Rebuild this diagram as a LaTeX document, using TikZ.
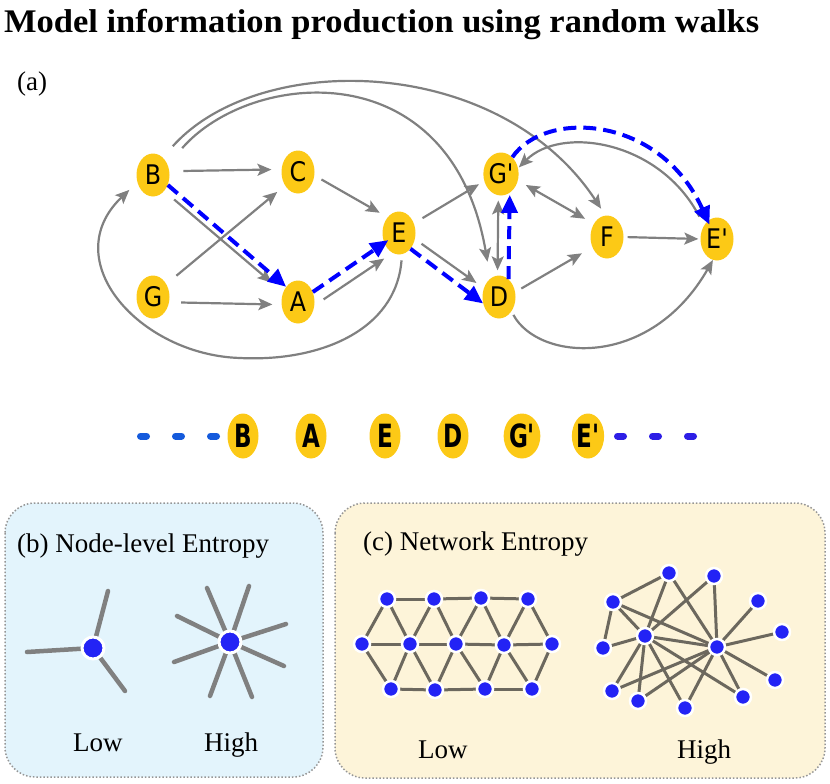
\documentclass[tikz,border=0pt]{standalone}
\usepackage{fontspec}
\setmainfont{Liberation Serif}
\newfontfamily\djv{DejaVu Sans}
\usetikzlibrary{arrows.meta,shapes.geometric}
\definecolor{gold}{RGB}{252,201,22}
\definecolor{edgegray}{RGB}{128,128,128}
\definecolor{walkblue}{RGB}{0,0,255}
\definecolor{dotblue}{RGB}{35,35,245}
\definecolor{panelblue}{RGB}{227,244,252}
\definecolor{panelyellow}{RGB}{253,244,217}
\definecolor{panelborder}{RGB}{150,150,150}
\definecolor{spokegray}{RGB}{128,128,128}
\definecolor{netgray}{RGB}{108,104,94}
\definecolor{seqblueL}{RGB}{20,90,220}
\definecolor{seqblueR}{RGB}{45,30,230}
\newcommand{\glab}[1]{\scalebox{0.88}[1]{#1}}
\newcommand{\slab}[1]{\scalebox{0.72}[1]{#1}}
\begin{document}
\begin{tikzpicture}[x=1pt,y=-1pt,
  gnode/.style={ellipse,fill=gold,minimum width=33pt,minimum height=43pt,inner sep=0pt,font=\djv\fontsize{27}{27}\selectfont},
  snode/.style={ellipse,fill=gold,minimum width=31pt,minimum height=45pt,inner sep=0pt,font=\djv\bfseries\fontsize{32}{32}\selectfont},
  gedge/.style={draw=edgegray,line width=2.2pt,-{Stealth[length=14pt,width=12pt,inset=3pt]}},
  gboth/.style={draw=edgegray,line width=2.2pt,{Stealth[length=14pt,width=12pt,inset=3pt]}-{Stealth[length=14pt,width=12pt,inset=3pt]}},
  walk/.style={draw=walkblue,line width=4pt,dash pattern=on 13pt off 7pt,-{Triangle[length=18pt,width=16pt]}},
  seqL/.style={draw=seqblueL,line width=7pt,line cap=round,dash pattern=on 6pt off 29pt},
  seqR/.style={draw=seqblueR,line width=7pt,line cap=round,dash pattern=on 6pt off 29pt},
  panel/.style={rounded corners=30pt,draw=panelborder,line width=1.5pt,dotted},
  lbl/.style={anchor=base west,inner sep=0pt,font=\fontsize{27}{27}\selectfont},
  spoke/.style={draw=spokegray,line width=4.5pt,line cap=round},
  netedge/.style={draw=netgray,line width=3pt},
  bigdot/.style={circle,fill=dotblue,draw=white,line width=3pt,minimum size=22pt,inner sep=0pt},
  netdot/.style={circle,fill=dotblue,draw=white,line width=2.5pt,minimum size=16pt,inner sep=0pt},
]
\useasboundingbox (0,0) rectangle (830,784);

% title and panel label
\node[anchor=base west,inner sep=0pt] (title) at (4,33) {\resizebox{755pt}{\height}{\fontsize{33}{33}\selectfont\bfseries Model information production using random walks}};
\node[lbl] (la) at (17,91) {(a)};

% graph nodes
\node[gnode] (B) at (153,175) {\glab{B}};
\node[gnode] (C) at (298,172) {\glab{C}};
\node[gnode] (E) at (399,233) {\glab{E}};
\node[gnode] (G) at (153,297) {\glab{G}};
\node[gnode] (A) at (298,302) {\glab{A}};
\node[gnode] (Gp) at (501,174) {\glab{G\textquotesingle}};
\node[gnode] (D) at (499,297) {\glab{D}};
\node[gnode] (F) at (607,237) {\glab{F}};
\node[gnode] (Ep) at (717,239) {\glab{E\textquotesingle}};

% gray edges
\draw[gedge,shorten <=14pt,shorten >=10pt] (B.13) -- (C.171);
\draw[gedge,shorten <=8pt,shorten >=9pt] (C.-12) -- (E.126);
\draw[gedge,shorten <=13pt,shorten >=15pt] (B.-55) -- (A.147);
\draw[gedge,shorten <=13pt,shorten >=10pt] (G.44) -- (C.-134);
\draw[gedge,shorten <=12pt,shorten >=9pt] (G.-18) -- (A.-171);
\draw[gedge,shorten <=11pt,shorten >=10pt] (A.-12) -- (E.-108);
\draw[gedge,shorten <=10pt,shorten >=6pt] (E.33) -- (Gp.-157);
\draw[gedge,shorten <=8pt,shorten >=9pt] (E.-21) -- (D.150);
\draw[gboth,shorten <=5pt,shorten >=5pt] (Gp.-97) -- (D.94);
\draw[gboth,shorten <=9pt,shorten >=10pt] (Gp.-21) -- (F.135);
\draw[gedge,shorten <=7pt,shorten >=12pt] (D.17) -- (F.-145);
\draw[gedge,shorten <=4pt,shorten >=2pt] (F.0) -- (Ep.180);
\coordinate (loopbot) at (240,358);
\draw[gedge,shorten <=6pt,shorten >=11pt] (E.-82) .. controls +(-6,76) and +(80,4) .. (loopbot) .. controls +(-100,-3) and +(-82,78) .. (B.205);
\draw[gedge,shorten <=15pt,shorten >=8pt] (B.61) .. controls +(97,-108) and +(-106,-161) .. (F.94);
\draw[gedge,shorten <=22pt,shorten >=17pt] (B.35) .. controls +(83,-95) and +(-39,-228) .. (D.115);
\draw[gedge,shorten <=4pt] (D.-49) .. controls +(27,50) and +(-63,110) .. (Ep.-101);
\draw[gedge,shorten <=10pt,shorten >=1pt] (Ep.134) .. controls +(-44,-85) and +(43,-43) .. (Gp.19);

% random walk
\draw[walk] (B.-34) -- (A.128);
\draw[walk,shorten >=-5pt] (A.34) -- (E.-146);
\draw[walk] (E.-54) -- (D.-158);
\draw[walk,shorten >=2pt] (D.62) -- (Gp.-65);
\draw[walk,shorten >=-4pt] (Gp.56) .. controls +(33,-48) and +(-48,-106) .. (Ep.117);

% sequence
\node[snode] (sB) at (243,436) {\slab{B}};
\node[snode] (sA) at (311,436) {\slab{A}};
\node[snode] (sE) at (385,436) {\slab{E}};
\node[snode] (sD) at (453,436) {\slab{D}};
\node[snode] (sGp) at (522,436) {\slab{G\textquotesingle}};
\node[snode] (sEp) at (588,436) {\slab{E\textquotesingle}};
\coordinate (wl) at (140.5,436);
\coordinate (wr) at (693.5,436);
\draw[seqL] (wl) -- (sB.west);
\draw[seqR] (wr) -- (sEp.east);

% panels
\draw[panel,fill=panelblue] (5,503) rectangle (323,777);
\draw[panel,fill=panelyellow] (335,503) rectangle (825,778);
\node[lbl] (lb) at (17,552) {(b) Node-level Entropy};
\node[lbl] (lc) at (363,550) {(c) Network Entropy};
\node[lbl] (lowb) at (73,751) {Low};
\node[lbl] (highb) at (204,751) {High};
\node[lbl] (lowc) at (418,758) {Low};
\node[lbl] (highc) at (677,758) {High};

% node-level stars
\coordinate (lowstar) at (93,648);
\foreach \p in {(27,652),(108,591),(125,691)} \draw[spoke] (lowstar) -- \p;
\node[bigdot] (lowdot) at (lowstar) {};
\coordinate (highstar) at (230,642);
\foreach \p in {(207,588),(249,586),(177,616),(286,624),(174,662),(284,666),(210,696),(252,697)} \draw[spoke] (highstar) -- \p;
\node[bigdot] (highdot) at (highstar) {};

% lattice
\coordinate (t1) at (387,599); \coordinate (t2) at (434,599); \coordinate (t3) at (481,598); \coordinate (t4) at (528,599);
\coordinate (m1) at (362,644); \coordinate (m2) at (410,644); \coordinate (m3) at (456,644); \coordinate (m4) at (504,645); \coordinate (m5) at (552,644);
\coordinate (b1) at (391,689); \coordinate (b2) at (435,690); \coordinate (b3) at (485,689); \coordinate (b4) at (532,689);
\foreach \u/\v in {t1/t2,t2/t3,t3/t4,m1/m2,m2/m3,m3/m4,m4/m5,b1/b2,b2/b3,b3/b4,
  t1/m1,t1/m2,t2/m2,t2/m3,t3/m3,t3/m4,t4/m4,t4/m5,
  b1/m1,b1/m2,b2/m2,b2/m3,b3/m3,b3/m4,b4/m4,b4/m5} \draw[netedge] (\u) -- (\v);
\foreach \n in {t1,t2,t3,t4,m1,m2,m3,m4,m5,b1,b2,b3,b4} \node[netdot] (d\n) at (\n) {};

% random network
\coordinate (n1) at (613,602); \coordinate (n2) at (669,573); \coordinate (n3) at (714,576);
\coordinate (n4) at (758,601); \coordinate (n5) at (782,632); \coordinate (n6) at (775,680);
\coordinate (n7) at (743,697); \coordinate (n8) at (685,708); \coordinate (n9) at (638,701);
\coordinate (n10) at (612,691); \coordinate (n11) at (603,648);
\coordinate (ha) at (645,636); \coordinate (hb) at (717,647);
\foreach \u/\v in {n2/n1,n2/ha,n2/hb,n1/n11,n1/ha,n1/hb,n3/ha,n3/hb,n4/hb,n5/hb,n6/hb,n7/hb,n8/hb,
  n11/ha,ha/hb,ha/n10,ha/n9,ha/n8,ha/n7,hb/n10,hb/n9} \draw[netedge] (\u) -- (\v);
\foreach \n in {n1,n2,n3,n4,n5,n6,n7,n8,n9,n10,n11,ha,hb} \node[netdot] (d\n) at (\n) {};
\end{tikzpicture}
\end{document}
